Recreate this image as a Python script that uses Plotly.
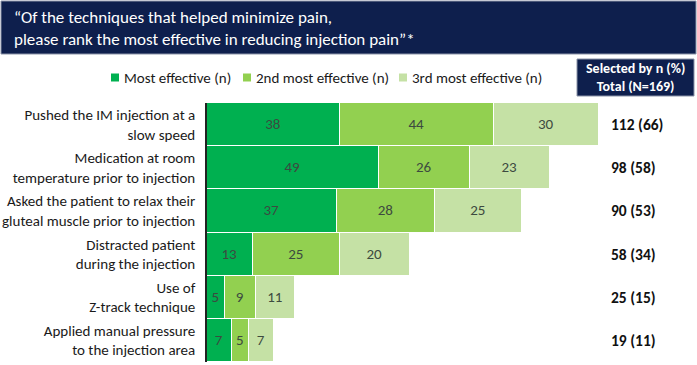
import plotly.graph_objects as go

categories = [
    "Pushed the IM injection at a<br>slow speed",
    "Medication at room<br>temperature prior to injection",
    "Asked the patient to relax their<br>gluteal muscle prior to injection",
    "Distracted patient<br>during the injection",
    "Use of<br>Z-track technique",
    "Applied manual pressure<br>to the injection area",
]
most_effective = [38, 49, 37, 13, 5, 7]
second_effective = [44, 26, 28, 25, 9, 5]
third_effective = [30, 23, 25, 20, 11, 7]
totals_n = [112, 98, 90, 58, 25, 19]
totals_pct = [66, 58, 53, 34, 15, 11]
series_names = ["Most effective (n)", "2nd most effective (n)", "3rd most effective (n)"]
colors = ["#00B050", "#92D050", "#C5E1A5"]

W, H = 697, 365
L, R, T, B = 207, 0, 103, 3
PW, PH = W - L - R, H - T - B
FONT = "Carlito, Lato, 'Open Sans', sans-serif"
NAVY = "#0E1F4D"


def px(x):
    return (x - L) / PW


def py(y):
    return (H - B - y) / PH


fig = go.Figure()
for name, vals, col in zip(series_names, [most_effective, second_effective, third_effective], colors):
    fig.add_trace(go.Bar(
        y=categories, x=vals, name=name, orientation="h",
        marker=dict(color=col, line=dict(color="white", width=1.5)),
        text=[str(v) for v in vals], textposition="inside", insidetextanchor="middle",
        textfont=dict(family=FONT, size=15, color="#3D4A40"),
        width=1, showlegend=False, hoverinfo="x+y+name",
    ))

shapes = []
annotations = []

# title banner
shapes.append(dict(type="rect", xref="paper", yref="paper", x0=px(1), x1=px(696), y0=py(1), y1=py(54),
                   fillcolor=NAVY, line=dict(color="#8A93A8", width=1), layer="below"))
annotations.append(dict(xref="paper", yref="paper", x=px(12), y=py(29), xanchor="left", yanchor="middle",
                        align="left", showarrow=False,
                        text="\u201cOf the techniques that helped minimize pain,<br>please rank the most effective in reducing injection pain\u201d*",
                        font=dict(family=FONT, size=17, color="white")))

# manual legend
leg_x = [111, 243, 399]
for i, (name, col) in enumerate(zip(series_names, colors)):
    shapes.append(dict(type="rect", xref="paper", yref="paper", x0=px(leg_x[i]), x1=px(leg_x[i] + 8),
                       y0=py(81.5), y1=py(73.5), fillcolor=col, line=dict(width=0)))
    annotations.append(dict(xref="paper", yref="paper", x=px(leg_x[i] + 11), y=py(77.5), xanchor="left",
                            yanchor="middle", showarrow=False, text=name,
                            font=dict(family=FONT, size=15, color="#1A1A1A")))

# header box
shapes.append(dict(type="rect", xref="paper", yref="paper", x0=px(577), x1=px(694), y0=py(96), y1=py(59),
                   fillcolor=NAVY, line=dict(color="#8A93A8", width=1)))
annotations.append(dict(xref="paper", yref="paper", x=px(635.5), y=py(77.5), xanchor="center", yanchor="middle",
                        showarrow=False, text="<b>Selected by n (%)<br>Total (N=169)</b>",
                        font=dict(family=FONT, size=14, color="white")))

# totals
for cat, n, p in zip(categories, totals_n, totals_pct):
    annotations.append(dict(xref="paper", yref="y", x=px(609), y=cat, xanchor="left", yanchor="middle",
                            showarrow=False, text=f"<b>{n} ({p})</b>",
                            font=dict(family=FONT, size=15.5, color="#111111")))

fig.update_layout(
    width=W, height=H, barmode="stack", bargap=0,
    margin=dict(l=L, r=R, t=T, b=B),
    paper_bgcolor="white", plot_bgcolor="white",
    font=dict(family=FONT, size=15, color="#1A1A1A"),
    shapes=shapes, annotations=annotations,
    uniformtext=dict(mode="show", minsize=10),
)
fig.update_xaxes(range=[0, 140], visible=False, fixedrange=True)
fig.update_yaxes(autorange="reversed", showline=True, linecolor="#222222", linewidth=1.5,
                 ticks="", ticklabelstandoff=7, showgrid=False, fixedrange=True,
                 tickfont=dict(family=FONT, size=15, color="#1A1A1A"))

fig.write_html("out.html", config={"displayModeBar": False},
               post_script="document.body.style.margin='0';document.body.style.padding='0';")
